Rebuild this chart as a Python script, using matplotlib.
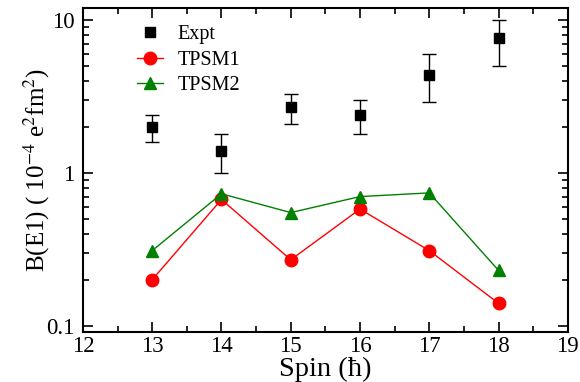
import numpy as np
import matplotlib
matplotlib.use("Agg")
import matplotlib.pyplot as plt
from matplotlib.lines import Line2D
from matplotlib.ticker import FixedLocator, LogLocator, NullFormatter, MultipleLocator

# Data
spin = [13, 14, 15, 16, 17, 18]
expt = [2.0, 1.4, 2.7, 2.4, 4.4, 7.6]
expt_lo = [1.6, 1.0, 2.1, 1.8, 2.9, 5.0]
expt_hi = [2.4, 1.8, 3.3, 3.0, 6.0, 10.0]
tpsm1 = [0.20, 0.67, 0.27, 0.58, 0.31, 0.14]
tpsm2 = [0.31, 0.73, 0.55, 0.70, 0.74, 0.23]

plt.rcParams['font.family'] = ['Liberation Serif', 'DejaVu Serif']
plt.rcParams['mathtext.fontset'] = 'stix'

fig = plt.figure(figsize=(5.8, 3.82), dpi=100)
ax = fig.add_axes([0.143, 0.131, 0.836, 0.848])

yerr = [np.array(expt) - np.array(expt_lo), np.array(expt_hi) - np.array(expt)]
ax.errorbar(spin, expt, yerr=yerr, fmt='s', color='black', ms=7, capsize=5,
            elinewidth=1, capthick=1)
l1, = ax.plot(spin, tpsm1, '-o', color='red', ms=9, lw=1, label='TPSM1')
l2, = ax.plot(spin, tpsm2, '-^', color='green', ms=9, lw=1, label='TPSM2')

ax.set_yscale('log')
ax.set_xlim(12, 19)
ax.set_ylim(0.091, 12)
ax.xaxis.set_major_locator(MultipleLocator(1))
ax.xaxis.set_minor_locator(MultipleLocator(0.5))
ax.yaxis.set_major_locator(FixedLocator([0.1, 1, 10]))
ax.yaxis.set_minor_locator(LogLocator(base=10, subs=np.arange(2, 10)))
ax.yaxis.set_minor_formatter(NullFormatter())
ax.set_yticklabels(['0.1', '1', '10'])

ax.tick_params(which='both', direction='in', top=True, right=True, labelsize=16.5, width=1.2)
ax.tick_params(which='major', length=7)
ax.tick_params(axis='x', which='major', pad=3)
ax.tick_params(axis='y', which='major', pad=6)
ax.tick_params(which='minor', length=4)
for s in ax.spines.values():
    s.set_linewidth(1.5)

ax.set_xlabel('Spin (ħ)', fontsize=20.5, labelpad=0)
ax.set_ylabel(r'B(E1) ( 10$^{-4}$ e$^{2}$fm$^{2}$)', fontsize=18, labelpad=-4)

h_expt = Line2D([], [], marker='s', ls='none', color='black', ms=7)
ax.legend([h_expt, l1, l2], ['Expt', 'TPSM1', 'TPSM2'], loc='upper left',
          frameon=False, fontsize=14.5, handlelength=1.3, handletextpad=0.7,
          bbox_to_anchor=(0.112, 0.948), borderaxespad=0, borderpad=0,
          labelspacing=0.33)

fig.savefig('out.png', dpi=100)
